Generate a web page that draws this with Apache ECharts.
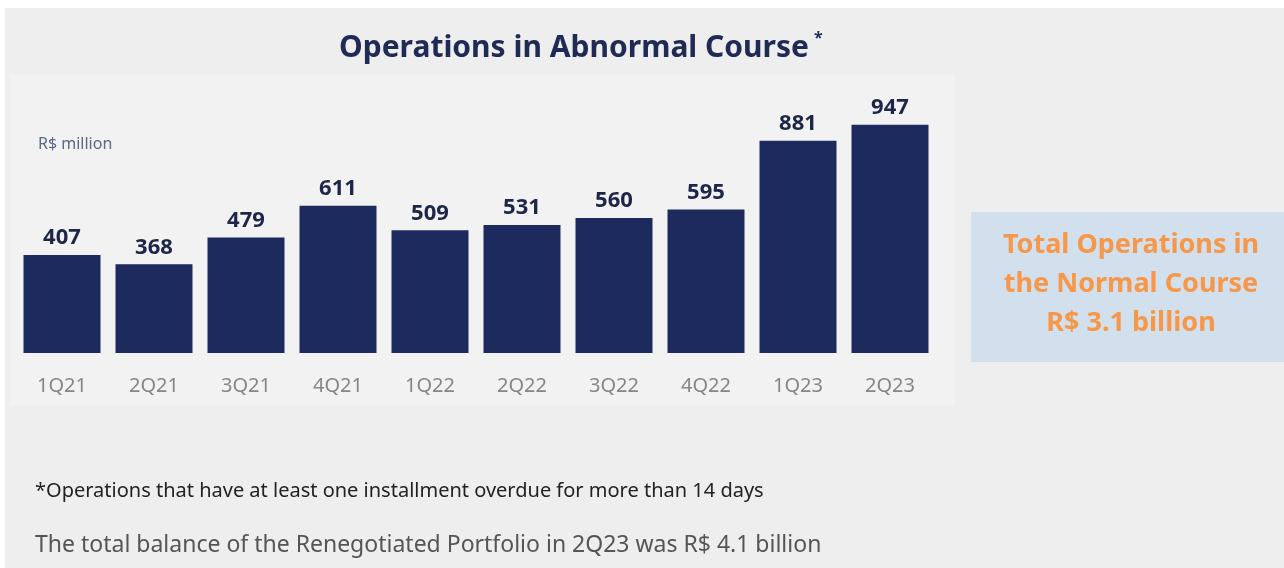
<!DOCTYPE html>
<html>
<head>
<meta charset="utf-8">
<script src="https://cdn.jsdelivr.net/npm/echarts@6/dist/echarts.min.js"></script>
<style>
  html, body { margin: 0; padding: 0; background: #ffffff; }
  #chart { width: 1284px; height: 568px; }
</style>
</head>
<body>
<div id="chart"></div>
<script>
// Quarterly balance of operations in abnormal course (R$ million)
const quarters = ['1Q21', '2Q21', '3Q21', '4Q21', '1Q22', '2Q22', '3Q22', '4Q22', '1Q23', '2Q23'];
const abnormalOps = [407, 368, 479, 611, 509, 531, 560, 595, 881, 947];

const chart = echarts.init(document.getElementById('chart'), null, { renderer: 'canvas' });

const navy = '#1c2a5e';

chart.setOption({
  backgroundColor: '#ffffff',
  animation: false,
  graphic: [
    // grey slide panel
    { type: 'rect', z: -10, shape: { x: 5, y: 8, width: 1279, height: 560 }, style: { fill: '#eeeeee' } },
    // lighter chart area
    { type: 'rect', z: -9, shape: { x: 10, y: 75, width: 945, height: 330 }, style: { fill: '#f2f2f2' } },
    // title
    { type: 'text', left: 339, top: 33, style: { text: 'Operations in Abnormal Course', font: 'bold 30px "Noto Sans", sans-serif', fill: '#1f2a55' } },
    { type: 'text', left: 814, top: 30, style: { text: '*', font: 'bold 16px "Noto Sans", sans-serif', fill: '#1f2a55' } },
    // unit
    { type: 'text', left: 38, top: 136, style: { text: 'R$ million', font: '16px "Noto Sans", sans-serif', fill: '#5b6784' } },
    // highlight box
    { type: 'rect', shape: { x: 971, y: 212, width: 313, height: 150 }, style: { fill: '#d1e0ec' } },
    { type: 'text', x: 1131, y: 284, style: {
        text: 'Total Operations in\nthe Normal Course\nR$ 3.1 billion',
        font: 'bold 27px "Noto Sans", sans-serif', fill: '#f7974a',
        align: 'center', verticalAlign: 'middle', lineHeight: 39 } },
    // footnotes
    { type: 'text', left: 35, top: 481, style: { text: '*Operations that have at least one installment overdue for more than 14 days', font: '20px "Noto Sans", sans-serif', fill: '#222222' } },
    { type: 'text', left: 35, top: 534, style: { text: 'The total balance of the Renegotiated Portfolio in 2Q23 was R$ 4.1 billion', font: '23px "Noto Sans", sans-serif', fill: '#555555' } }
  ],
  grid: { left: 16, right: 348, top: 112, bottom: 215, containLabel: false },
  xAxis: {
    type: 'category',
    data: quarters,
    axisLine: { show: false },
    axisTick: { show: false },
    axisLabel: { margin: 23, fontSize: 20, color: '#868686', fontFamily: '"Noto Sans", sans-serif' }
  },
  yAxis: {
    type: 'value',
    min: 0,
    max: 1000,
    show: false,
    splitLine: { show: false }
  },
  series: [{
    type: 'bar',
    data: abnormalOps,
    barWidth: 77,
    itemStyle: { color: navy },
    label: {
      show: true,
      position: 'top',
      distance: 6,
      fontSize: 22,
      fontWeight: 'bold',
      color: '#1d2548',
      fontFamily: '"Noto Sans", sans-serif'
    }
  }]
});
</script>
</body>
</html>
